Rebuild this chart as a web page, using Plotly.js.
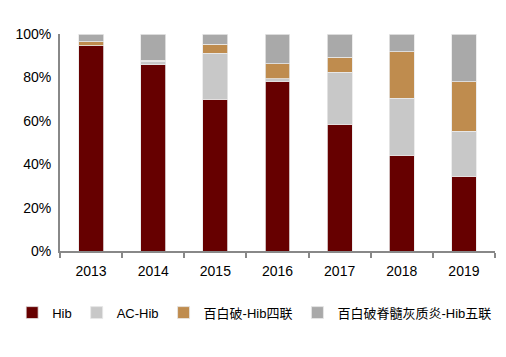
<!DOCTYPE html>
<html><head><meta charset="utf-8">
<script src="https://cdn.plot.ly/plotly-3.0.1.min.js"></script>
<style>body{margin:0;background:#fff}#c{width:506px;height:357px}</style>
</head><body><div id="c"></div>
<script>
const years = ['2013','2014','2015','2016','2017','2018','2019'];
const hib = [94.6, 85.9, 70.0, 78.3, 58.4, 44.2, 34.4];
const acHib = [0.0, 1.5, 21.1, 1.1, 23.9, 26.3, 20.8];
const dtpHib4 = [1.9, 0.6, 4.1, 6.8, 7.1, 21.3, 22.8];
const dtpIpvHib5 = [3.5, 12.0, 4.8, 13.8, 10.6, 8.2, 22.0];
const names = ['Hib', 'AC-Hib', '百白破-Hib四联', '百白破脊髓灰质炎-Hib五联'];
const colors = ['#660000', '#C8C8C8', '#BF8C4E', '#A9A9A9'];
const series = [hib, acHib, dtpHib4, dtpIpvHib5];
const traces = series.map((v, i) => ({
  type: 'bar', x: years, y: v, name: names[i],
  marker: {color: colors[i], line: {color: '#e8e8e8', width: 0.8}},
  hoverinfo: 'skip'
}));
Plotly.newPlot('c', traces, {
  width: 506, height: 357,
  barmode: 'stack', bargap: 0.6,
  margin: {l: 60, r: 11, t: 34, b: 106},
  paper_bgcolor: '#fff', plot_bgcolor: '#fff',
  font: {family: 'Liberation Sans, Noto Sans CJK SC', size: 13, color: '#000'},
  xaxis: {type: 'category', showline: true, linecolor: '#888', linewidth: 2, ticks: 'outside', tickson: 'boundaries',
          ticklen: 5, tickcolor: '#888', tickwidth: 2, showgrid: false, tickfont: {size: 14}, ticklabelstandoff: 6},
  yaxis: {range: [0, 100], tickvals: [0,20,40,60,80,100], ticktext: ['0%','20%','40%','60%','80%','100%'],
          showline: true, linecolor: '#888', linewidth: 2, showgrid: false, zeroline: false,
          ticks: '', tickfont: {size: 14}, ticklabelstandoff: 4},
  legend: {orientation: 'h', traceorder: 'normal', x: -0.11, xanchor: 'left', y: -0.215, yanchor: 'top',
           font: {size: 13, family: 'Liberation Sans, Noto Sans CJK SC'}, itemwidth: 30, tracegroupgap: 0},
  showlegend: true
}, {displayModeBar: false, staticPlot: true});
</script></body></html>
